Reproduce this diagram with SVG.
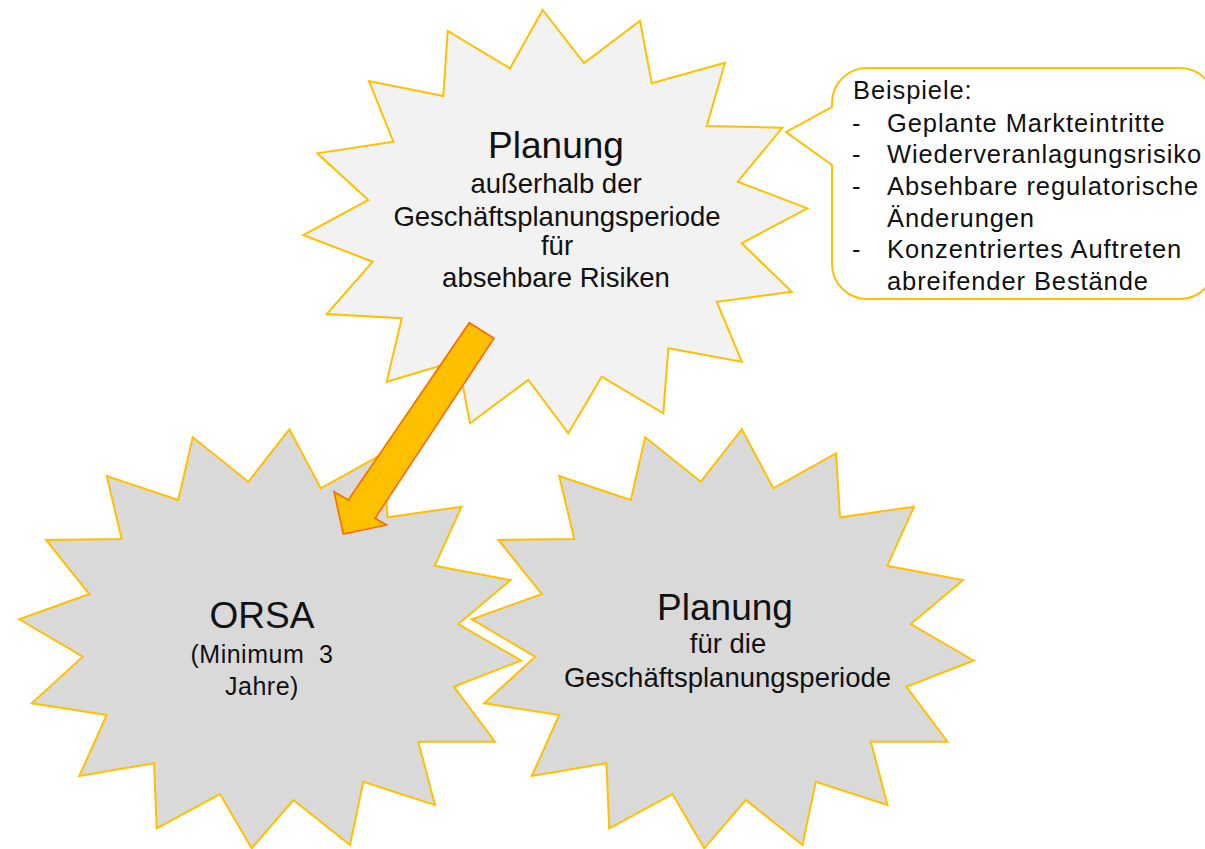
<svg xmlns="http://www.w3.org/2000/svg" width="1205" height="849" viewBox="0 0 1205 849">
  <style>
    .star { stroke: #ffc000; stroke-width: 2; stroke-linejoin: miter; }
    .light { fill: #f2f2f2; }
    .dark { fill: #d9d9d9; }
    .t { font-family: "Liberation Sans", Arial, sans-serif; fill: #111; }
    .big { font-size: 37px; text-anchor: middle; }
    .sub { font-size: 27.5px; text-anchor: middle; }
    .orsa-sub { font-size: 25px; text-anchor: middle; letter-spacing: 0.5px; white-space: pre; }
    .call { font-size: 25.5px; letter-spacing: 0.9px; }
    .callout { fill: #fff; stroke: #ffc000; stroke-width: 2; }
    .arrow { fill: #ffc000; stroke: #ff6a00; stroke-width: 1.6; stroke-linejoin: miter; }
  </style>
  <defs>
    <path id="starB" d="M289.3,429.3 L320.8,488.3 L383.5,453.3 L387.5,517.3 L461.5,506.7 L434.8,565.7 L510.5,580 L458.3,624 L521,660.5 L453.8,686.7 L495,741.7 L418.3,741.7 L435,805 L363.3,781.7 L350,845 L293.3,800 L251.7,848.3 L220,794 L156.7,828.3 L154,763.3 L79.3,776 L106.7,715 L31.7,703.3 L82.7,656.7 L19.3,619.3 L89.3,594 L46,540 L121.7,539 L106.7,476 L178.3,500 L192.7,437.3 L248.3,481.7 Z"/>
  </defs>

  <g id="node-planung-risiken">
    <path class="star light" d="M542.7,10 L584,63 L640,20.7 L651.7,83.3 L725,62.7 L706.7,126 L782.3,127.7 L737.7,181.7 L807.3,208.3 L741.7,243.3 L791.7,291.7 L716.7,301.7 L741.7,361.7 L668.3,348.3 L663.3,413.3 L601.7,376.7 L568.3,433.3 L528.3,380 L470,423.3 L458,360.5 L386.7,381.7 L401.7,318.3 L326.7,314 L372.7,261.7 L303.3,235 L368.3,200 L317.3,153.3 L393.3,141.7 L369,81 L443.3,96 L447.7,31 L510,68.3 Z"/>
    <text class="t big" x="556" y="158">Planung</text>
    <text class="t sub" x="556" y="192.5">außerhalb der</text>
    <text class="t sub" x="557" y="225.5">Geschäftsplanungsperiode</text>
    <text class="t sub" x="557" y="255">für</text>
    <text class="t sub" x="556" y="286.5">absehbare Risiken</text>
  </g>

  <g id="node-orsa">
    <use href="#starB" class="star dark"/>
    <text class="t big" x="262" y="628">ORSA</text>
    <text class="t orsa-sub" x="262" y="663" xml:space="preserve">(Minimum  3</text>
    <text class="t orsa-sub" x="262" y="695">Jahre)</text>
  </g>

  <g id="node-planung-gp">
    <use href="#starB" class="star dark" transform="translate(452.5,0)"/>
    <text class="t big" x="725" y="620">Planung</text>
    <text class="t sub" x="728" y="653">für die</text>
    <text class="t sub" x="727.5" y="686.5">Geschäftsplanungsperiode</text>
  </g>

  <g id="node-beispiele">
    <path class="callout" d="M867,68 H1180 A35,35 0 0 1 1215,103 V264 A35,35 0 0 1 1180,299 H867 A35,35 0 0 1 832,264 V165 L786,132 L832,107 V103 A35,35 0 0 1 867,68 Z"/>
    <text class="t call" x="853" y="99">Beispiele:</text>
    <text class="t call" x="852" y="131.5">-</text>
    <text class="t call" x="887" y="131.5">Geplante Markteintritte</text>
    <text class="t call" x="852" y="163">-</text>
    <text class="t call" x="887" y="163">Wiederveranlagungsrisiko</text>
    <text class="t call" x="852" y="195">-</text>
    <text class="t call" x="887" y="195">Absehbare regulatorische</text>
    <text class="t call" x="887" y="226.5">Änderungen</text>
    <text class="t call" x="852" y="258">-</text>
    <text class="t call" x="887" y="258">Konzentriertes Auftreten</text>
    <text class="t call" x="887" y="290">abreifender Bestände</text>
  </g>

  <g id="connectors">
    <path class="arrow" d="M469.3,322.7 L494,338.3 L375,518.3 L386.7,525 L343.3,534 L334,491.7 L348.3,500 Z"/>
  </g>
</svg>
